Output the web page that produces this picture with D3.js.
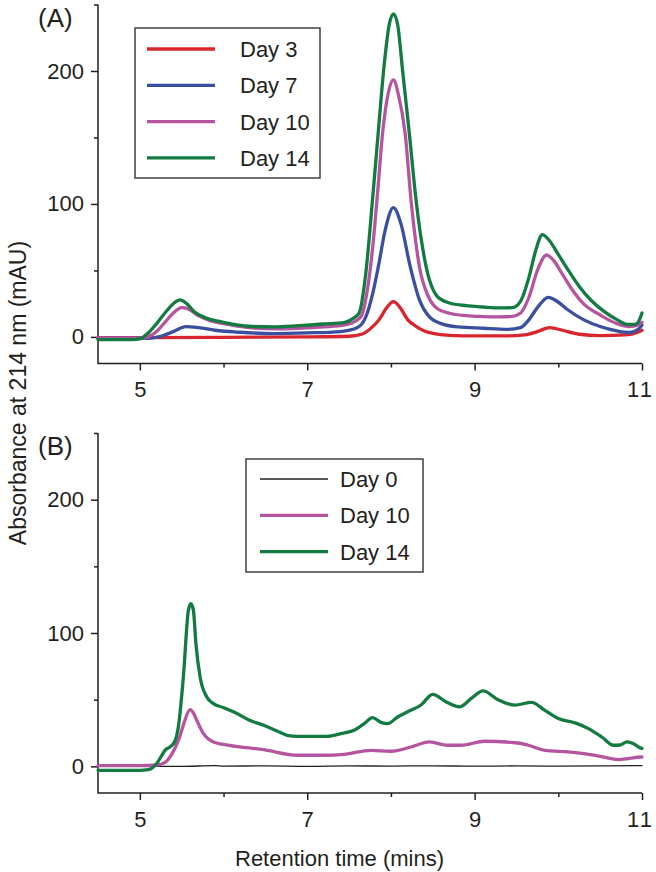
<!DOCTYPE html>
<html><head><meta charset="utf-8">
<script src="https://cdn.jsdelivr.net/npm/d3@7"></script>
<style>
body{margin:0;background:#fff}
svg{display:block}
text{font-family:"Liberation Sans",Arial,Helvetica,sans-serif;fill:#231f20}
</style>
</head><body>
<svg id="c" width="656" height="872"></svg>
<script>
// ---------- DATA ----------
const xTicksMajor = [5, 7, 9, 11];
const xTicksMinor = [6, 8, 10];
const yTicksMajor = [0, 100, 200];
const yTicksMinor = [50, 150, 250];

// Panel A
const a_names = ["Day 3", "Day 7", "Day 10", "Day 14"];
const a_colors = ["#d9262e", "#3a4f9f", "#b5559f", "#137a40"];

const a_day3_t = [4.5, 5.0, 6.0, 7.0, 7.5, 7.65, 7.75, 7.86, 7.95, 8.03, 8.11, 8.2, 8.3, 8.4, 8.5, 8.7, 9.0, 9.4, 9.6, 9.75, 9.9, 10.05, 10.25, 10.5, 10.8, 10.95, 11.0];
const a_day3_v = [-0.5, -0.5, -0.3, 0, 0.5, 2, 6, 13, 22, 26.5, 22, 13, 8, 4.5, 2.7, 1.2, 0.8, 0.8, 1.5, 4, 7, 5, 2, 1, 1.5, 3.5, 5];

const a_day7_t = [4.5, 5.1, 5.25, 5.4, 5.55, 5.7, 5.9, 6.2, 6.6, 7.0, 7.4, 7.6, 7.7, 7.78, 7.85, 7.93, 8.03, 8.12, 8.23, 8.34, 8.46, 8.6, 8.8, 9.1, 9.4, 9.55, 9.65, 9.75, 9.88, 9.98, 10.1, 10.3, 10.5, 10.7, 10.85, 10.95, 11.0];
const a_day7_v = [-1, -1, 0.5, 4, 7.8, 7, 5, 3.5, 2.5, 3, 4, 7, 15, 32, 53, 80, 97.3, 85, 53, 28, 15, 10, 7.5, 6.5, 5.7, 7, 13, 22, 29.8, 27, 21, 13, 7.8, 4.5, 3.3, 5.5, 9];

const a_day10_t = [4.5, 5.0, 5.1, 5.2, 5.3, 5.4, 5.5, 5.58, 5.7, 5.85, 6.0, 6.3, 6.6, 6.9, 7.2, 7.45, 7.58, 7.65, 7.72, 7.78, 7.84, 7.9, 7.97, 8.03, 8.09, 8.17, 8.24, 8.34, 8.45, 8.56, 8.7, 8.9, 9.1, 9.3, 9.45, 9.55, 9.65, 9.75, 9.86, 9.95, 10.05, 10.15, 10.3, 10.5, 10.7, 10.85, 10.95, 11.0];
const a_day10_v = [-1, -1, 0, 4, 11, 18, 22, 21, 16, 12, 10, 7, 6, 6.5, 7.5, 9, 12, 16, 36, 66, 108, 153, 184, 193.3, 182, 153, 103, 53, 30, 21, 17.8, 16, 15.3, 15, 15.5, 18, 30, 50, 61.6, 57, 47, 37, 25, 16.5, 10, 7.8, 9, 11];

const a_day14_t = [4.5, 4.9, 5.0, 5.1, 5.2, 5.3, 5.4, 5.48, 5.56, 5.65, 5.8, 6.0, 6.3, 6.6, 6.9, 7.2, 7.45, 7.55, 7.62, 7.7, 7.78, 7.85, 7.92, 7.98, 8.03, 8.08, 8.14, 8.22, 8.3, 8.42, 8.56, 8.7, 8.9, 9.1, 9.3, 9.45, 9.55, 9.65, 9.73, 9.81, 9.9, 10.0, 10.1, 10.25, 10.4, 10.55, 10.7, 10.82, 10.92, 10.97, 11.0];
const a_day14_v = [-2, -2, -1.5, 3, 10, 18, 25, 27.8, 25, 19, 14, 11, 8, 7.5, 8.5, 9.7, 11, 14, 18, 48, 103, 155, 205, 235, 243, 235, 200, 153, 103, 53, 30, 25.5, 23.5, 22.5, 21.8, 22, 27, 45, 65, 77, 72, 62, 52, 38, 27, 19, 13, 9.5, 9.5, 13, 18];

// Panel B
const b_names = ["Day 0", "Day 10", "Day 14"];
const b_colors = ["#231f20", "#b5559f", "#137a40"];

const b_day0_t = [4.5, 5.0, 5.5, 5.9, 6.0, 6.5, 7.0, 7.5, 8.0, 8.5, 9.0, 9.5, 10.0, 10.5, 10.9, 11.0];
const b_day0_v = [0, 0, 0, 0.5, 0.2, 0.3, 0, 0.3, 0.2, 0.4, 0.1, 0.3, 0.2, 0.3, 0.5, 0.6];

const b_day10_t = [4.5, 5.0, 5.2, 5.3, 5.38, 5.47, 5.53, 5.6, 5.64, 5.68, 5.76, 5.88, 6.07, 6.48, 6.88, 7.2, 7.44, 7.76, 8.0, 8.24, 8.46, 8.68, 8.84, 9.12, 9.52, 9.64, 9.84, 10.12, 10.44, 10.72, 10.85, 10.98, 11.0];
const b_day10_v = [0.5, 0.5, 1, 3, 9, 21, 33, 42.6, 40, 34.6, 24.5, 18.3, 15.8, 12.5, 8.3, 8.3, 9, 12, 11.3, 14.5, 18.3, 15.8, 15.8, 18.8, 17.5, 15.8, 12, 10.8, 8.3, 5, 6, 7, 7];

const b_day14_t = [4.5, 5.0, 5.1, 5.2, 5.26, 5.3, 5.36, 5.42, 5.46, 5.52, 5.58, 5.61, 5.64, 5.67, 5.72, 5.8, 5.88, 6.0, 6.16, 6.31, 6.48, 6.64, 6.76, 6.88, 7.0, 7.24, 7.4, 7.56, 7.68, 7.78, 7.88, 7.96, 8.08, 8.2, 8.36, 8.5, 8.66, 8.82, 8.96, 9.1, 9.28, 9.48, 9.68, 9.84, 10.0, 10.2, 10.36, 10.52, 10.66, 10.74, 10.82, 10.9, 10.98, 11.0];
const b_day14_v = [-3, -3, -2.5, 2, 8, 12, 14.5, 19, 29.5, 67, 117, 122, 117, 92, 67, 52, 47, 44, 39.6, 34.6, 30.8, 26.5, 23.3, 22.5, 22.5, 22.5, 24.5, 27, 32, 36.6, 33, 32, 37, 41, 46, 54, 48.3, 44.6, 50.9, 56.6, 50, 45.9, 48, 42, 35.8, 32.6, 28.3, 22, 15.8, 16, 18.3, 17, 13.8, 13.5];

// ---------- DRAW ----------
const svg = d3.select("#c");
const ink = "#231f20";
const fs = "22px";

const x = d3.scaleLinear().domain([4.5, 11]).range([98, 642]);

function panel(opts) {
  const y = d3.scaleLinear().domain([-20, 250]).range([opts.bottom, opts.top]);
  const g = svg.append("g");

  const yMaj = g.append("g").attr("transform", "translate(98,0)")
    .call(d3.axisLeft(y).tickValues(yTicksMajor).tickSize(7).tickSizeOuter(0).tickPadding(7).tickFormat(d3.format("d")));
  const yMin = g.append("g").attr("transform", "translate(98,0)")
    .call(d3.axisLeft(y).tickValues(yTicksMinor).tickSize(4).tickSizeOuter(0).tickFormat(""));
  const xMaj = g.append("g").attr("transform", `translate(0,${opts.bottom})`)
    .call(d3.axisBottom(x).tickValues(xTicksMajor).tickSize(7).tickSizeOuter(0).tickPadding(11).tickFormat(d3.format("d")));
  const xMin = g.append("g").attr("transform", `translate(0,${opts.bottom})`)
    .call(d3.axisBottom(x).tickValues(xTicksMinor).tickSize(4).tickSizeOuter(0).tickFormat(""));

  [yMaj, yMin, xMaj, xMin].forEach(a => {
    a.select(".domain").remove();
    a.selectAll("line").attr("stroke", ink).attr("stroke-width", 1.5);
    a.selectAll("text").attr("font-size", fs).attr("font-family", '"Liberation Sans",Arial,sans-serif').attr("fill", ink);
  });
  xMaj.selectAll("text").attr("letter-spacing", d => d === 11 ? "2px" : null)
    .attr("dx", d => d === 11 ? "-2px" : null);

  g.append("path")
    .attr("d", `M98,${opts.top}V${opts.bottom}H642`)
    .attr("fill", "none").attr("stroke", ink).attr("stroke-width", 1.5);

  g.append("text").attr("x", 38).attr("y", opts.labelY).attr("font-size", "26px").text(opts.label);

  const line = d3.line().x(d => x(d[0])).y(d => y(d[1])).curve(d3.curveMonotoneX);
  opts.series.forEach(s => {
    g.append("path").datum(d3.zip(s.t, s.v))
      .attr("d", line).attr("fill", "none")
      .attr("stroke", s.color).attr("stroke-width", s.w)
      .attr("stroke-linejoin", "round").attr("stroke-linecap", "round");
  });

  const L = opts.legend;
  g.append("rect").attr("x", L.x).attr("y", L.y).attr("width", L.w).attr("height", L.h)
    .attr("fill", "#fff").attr("stroke", "#333").attr("stroke-width", 1.4);
  L.names.forEach((n, i) => {
    const ry = L.row0 + i * L.step;
    g.append("line").attr("x1", L.lx1).attr("x2", L.lx2).attr("y1", ry).attr("y2", ry)
      .attr("stroke", L.colors[i]).attr("stroke-width", L.widths[i]);
    g.append("text").attr("x", L.tx).attr("y", ry + 8).attr("font-size", fs).text(n);
  });
}

panel({
  top: 4.5, bottom: 363.5, label: "(A)", labelY: 27,
  series: [
    {t: a_day3_t, v: a_day3_v, color: a_colors[0], w: 3.3},
    {t: a_day7_t, v: a_day7_v, color: a_colors[1], w: 3.3},
    {t: a_day10_t, v: a_day10_v, color: a_colors[2], w: 3.3},
    {t: a_day14_t, v: a_day14_v, color: a_colors[3], w: 3.3}
  ],
  legend: {x: 135, y: 28, w: 185, h: 150, lx1: 147, lx2: 215, tx: 240, row0: 49, step: 36.3,
           names: a_names, colors: a_colors, widths: [3.3, 3.3, 3.3, 3.3]}
});

panel({
  top: 433, bottom: 793, label: "(B)", labelY: 455,
  series: [
    {t: b_day0_t, v: b_day0_v, color: b_colors[0], w: 1.3},
    {t: b_day10_t, v: b_day10_v, color: b_colors[1], w: 3.3},
    {t: b_day14_t, v: b_day14_v, color: b_colors[2], w: 3.3}
  ],
  legend: {x: 246, y: 459, w: 177, h: 113, lx1: 260, lx2: 328, tx: 340, row0: 479, step: 36.3,
           names: b_names, colors: b_colors, widths: [1.5, 3.3, 3.3]}
});

svg.append("text").attr("x", 235).attr("y", 866).attr("font-size", fs).text("Retention time (mins)");
svg.append("text").attr("transform", "translate(26,393) rotate(-90)").attr("text-anchor", "middle")
  .attr("font-size", "23px").text("Absorbance at 214 nm (mAU)");
</script>
</body></html>
